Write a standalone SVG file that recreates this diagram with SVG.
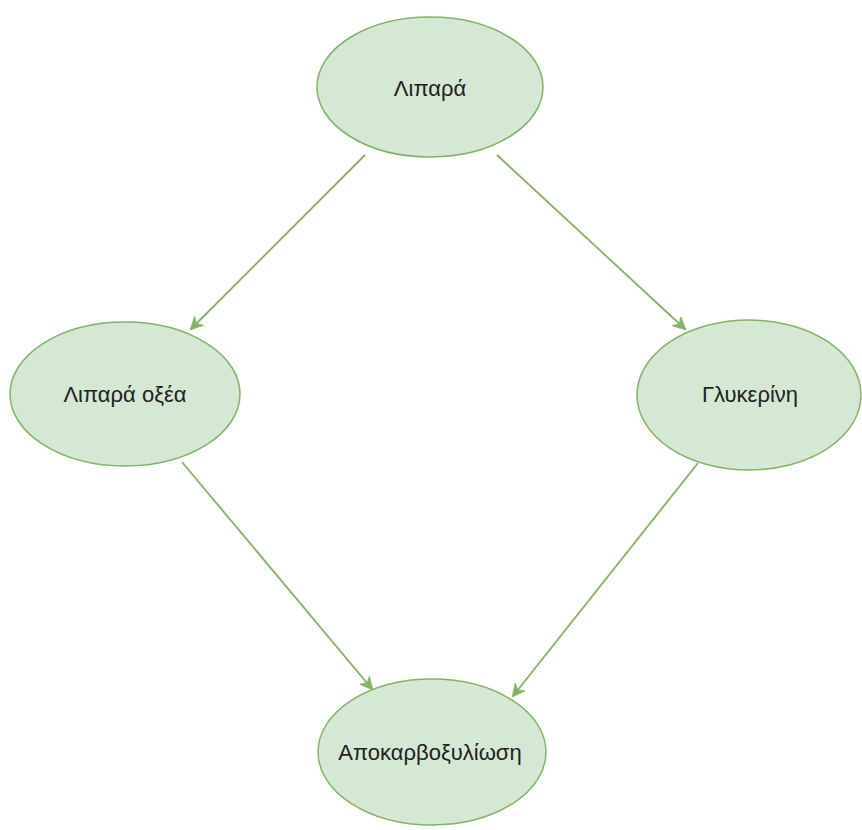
<svg xmlns="http://www.w3.org/2000/svg" width="862" height="830" viewBox="0 0 862 830">
<style>
.node ellipse{fill:#d5e8d4;stroke:#82b366;stroke-width:1.5}
.node text{font-family:"Liberation Sans",Arial,sans-serif;font-size:22px;fill:#222;text-anchor:middle;dominant-baseline:central}
.edge{stroke:#82b366;stroke-width:1.8;fill:none;marker-end:url(#arr)}
</style>
<defs>
<marker id="arr" viewBox="0 0 10 10" refX="9" refY="5" markerWidth="13" markerHeight="13" markerUnits="userSpaceOnUse" orient="auto">
<path d="M0,0 L10,5 L0,10 L3,5 z" fill="#82b366" stroke="#82b366" stroke-width="0.5"/>
</marker>
</defs>
<rect width="862" height="830" fill="#fff"/>
<g id="connectors">
<line class="edge" x1="365" y1="155" x2="191" y2="329"/>
<line class="edge" x1="497" y1="155" x2="685" y2="329"/>
<line class="edge" x1="182" y1="462" x2="372" y2="689"/>
<line class="edge" x1="698" y1="463" x2="513" y2="696"/>
</g>
<g id="n-lipara" class="node"><ellipse cx="430" cy="87" rx="113" ry="70"/><text x="430" y="88">Λιπαρά</text></g>
<g id="n-lipara-oxea" class="node"><ellipse cx="125" cy="394" rx="115" ry="72"/><text x="125" y="394">Λιπαρά οξέα</text></g>
<g id="n-glykerini" class="node"><ellipse cx="749" cy="395" rx="112" ry="75"/><text x="750" y="394">Γλυκερίνη</text></g>
<g id="n-apokarv" class="node"><ellipse cx="432" cy="752" rx="114" ry="73"/><text x="430" y="752">Αποκαρβοξυλίωση</text></g>
</svg>
